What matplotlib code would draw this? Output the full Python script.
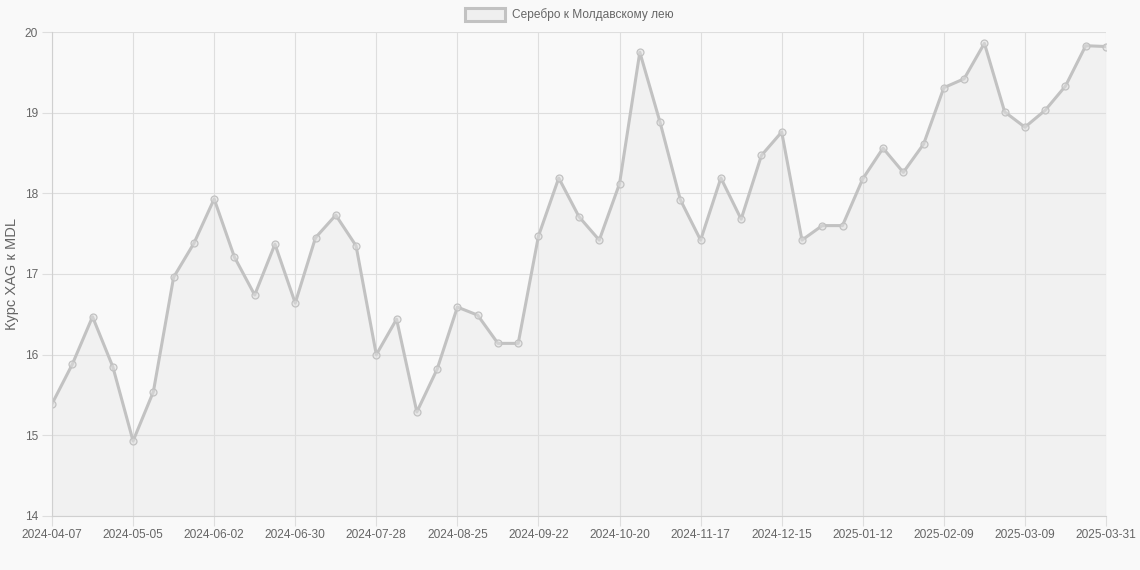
import datetime as dt

import matplotlib
matplotlib.use("Agg")
import matplotlib.pyplot as plt
from matplotlib.patches import Rectangle

# ---------------------------------------------------------------------------
# Data: weekly XAG -> MDL rate
# ---------------------------------------------------------------------------
start = dt.date(2024, 4, 7)
dates = [(start + dt.timedelta(weeks=i)).isoformat() for i in range(52)] + ["2025-03-31"]

rates = [
    15.39, 15.88, 16.47, 15.85, 14.93, 15.54, 16.96, 17.38, 17.93, 17.21,
    16.74, 17.37, 16.64, 17.45, 17.73, 17.35, 16.00, 16.44, 15.29, 15.82,
    16.59, 16.49, 16.14, 16.14, 17.47, 18.19, 17.71, 17.42, 18.12, 19.75,
    18.88, 17.92, 17.42, 18.19, 17.68, 18.47, 18.76, 17.42, 17.60, 17.60,
    18.18, 18.56, 18.26, 18.61, 19.31, 19.42, 19.86, 19.01, 18.82, 19.03,
    19.33, 19.83, 19.82,
]

label = "Серебро к Молдавскому лею"
y_title = "Курс XAG к MDL"

BG = "#f9f9f9"
LINE = "#c2c2c2"
FILL = (0.75, 0.75, 0.75, 0.12)
TXT = "#666666"
GRID = "#dedede"

plt.rcParams["font.family"] = ["Liberation Sans", "DejaVu Sans"]

fig = plt.figure(figsize=(11.4, 5.7), dpi=100, facecolor=BG)
ax = fig.add_axes([52 / 1140, 1 - 516 / 570, (1106 - 52) / 1140, (516 - 32) / 570])
ax.set_facecolor(BG)

x = list(range(len(rates)))
ax.fill_between(x, rates, 14, color=FILL, linewidth=0, zorder=1)
ax.plot(x, rates, color=LINE, linewidth=2.2, zorder=2,
        marker="o", markersize=5, markerfacecolor=(0.88, 0.88, 0.88, 0.5),
        markeredgecolor=LINE, markeredgewidth=0.9)

ax.set_xlim(0, len(rates) - 1)
ax.set_ylim(14, 20)

# category axis: every 4th week plus the last point
tick_idx = list(range(0, len(rates) - 1, 4)) + [len(rates) - 1]
ax.set_xticks(tick_idx)
ax.set_xticklabels([dates[i] for i in tick_idx])
ax.set_yticks(range(14, 21))

ax.grid(True, color=GRID, linewidth=0.8, zorder=0)
for s in ax.spines.values():
    s.set_visible(False)
for side in ("left", "bottom"):
    ax.spines[side].set_visible(True)
    ax.spines[side].set_color("#d0d0d0")
ax.tick_params(axis="both", colors=GRID, labelcolor=TXT, labelsize=8.6,
               length=7, width=0.8)
ax.tick_params(axis="x", pad=2)
ax.tick_params(axis="y", pad=3)

ax.set_ylabel(y_title, color=TXT, fontsize=10.5, labelpad=4)

# legend box drawn like the web chart (filled swatch with border)
fig.patches.append(Rectangle((465 / 1140, 1 - 21 / 570), 40 / 1140, 13 / 570,
                             transform=fig.transFigure, facecolor="#efefef",
                             edgecolor=LINE, linewidth=2.2))
fig.text(512 / 1140, 1 - 15 / 570, label, color=TXT, fontsize=8.6,
         va="center", ha="left")

fig.savefig("out.png", dpi=100, facecolor=BG)
